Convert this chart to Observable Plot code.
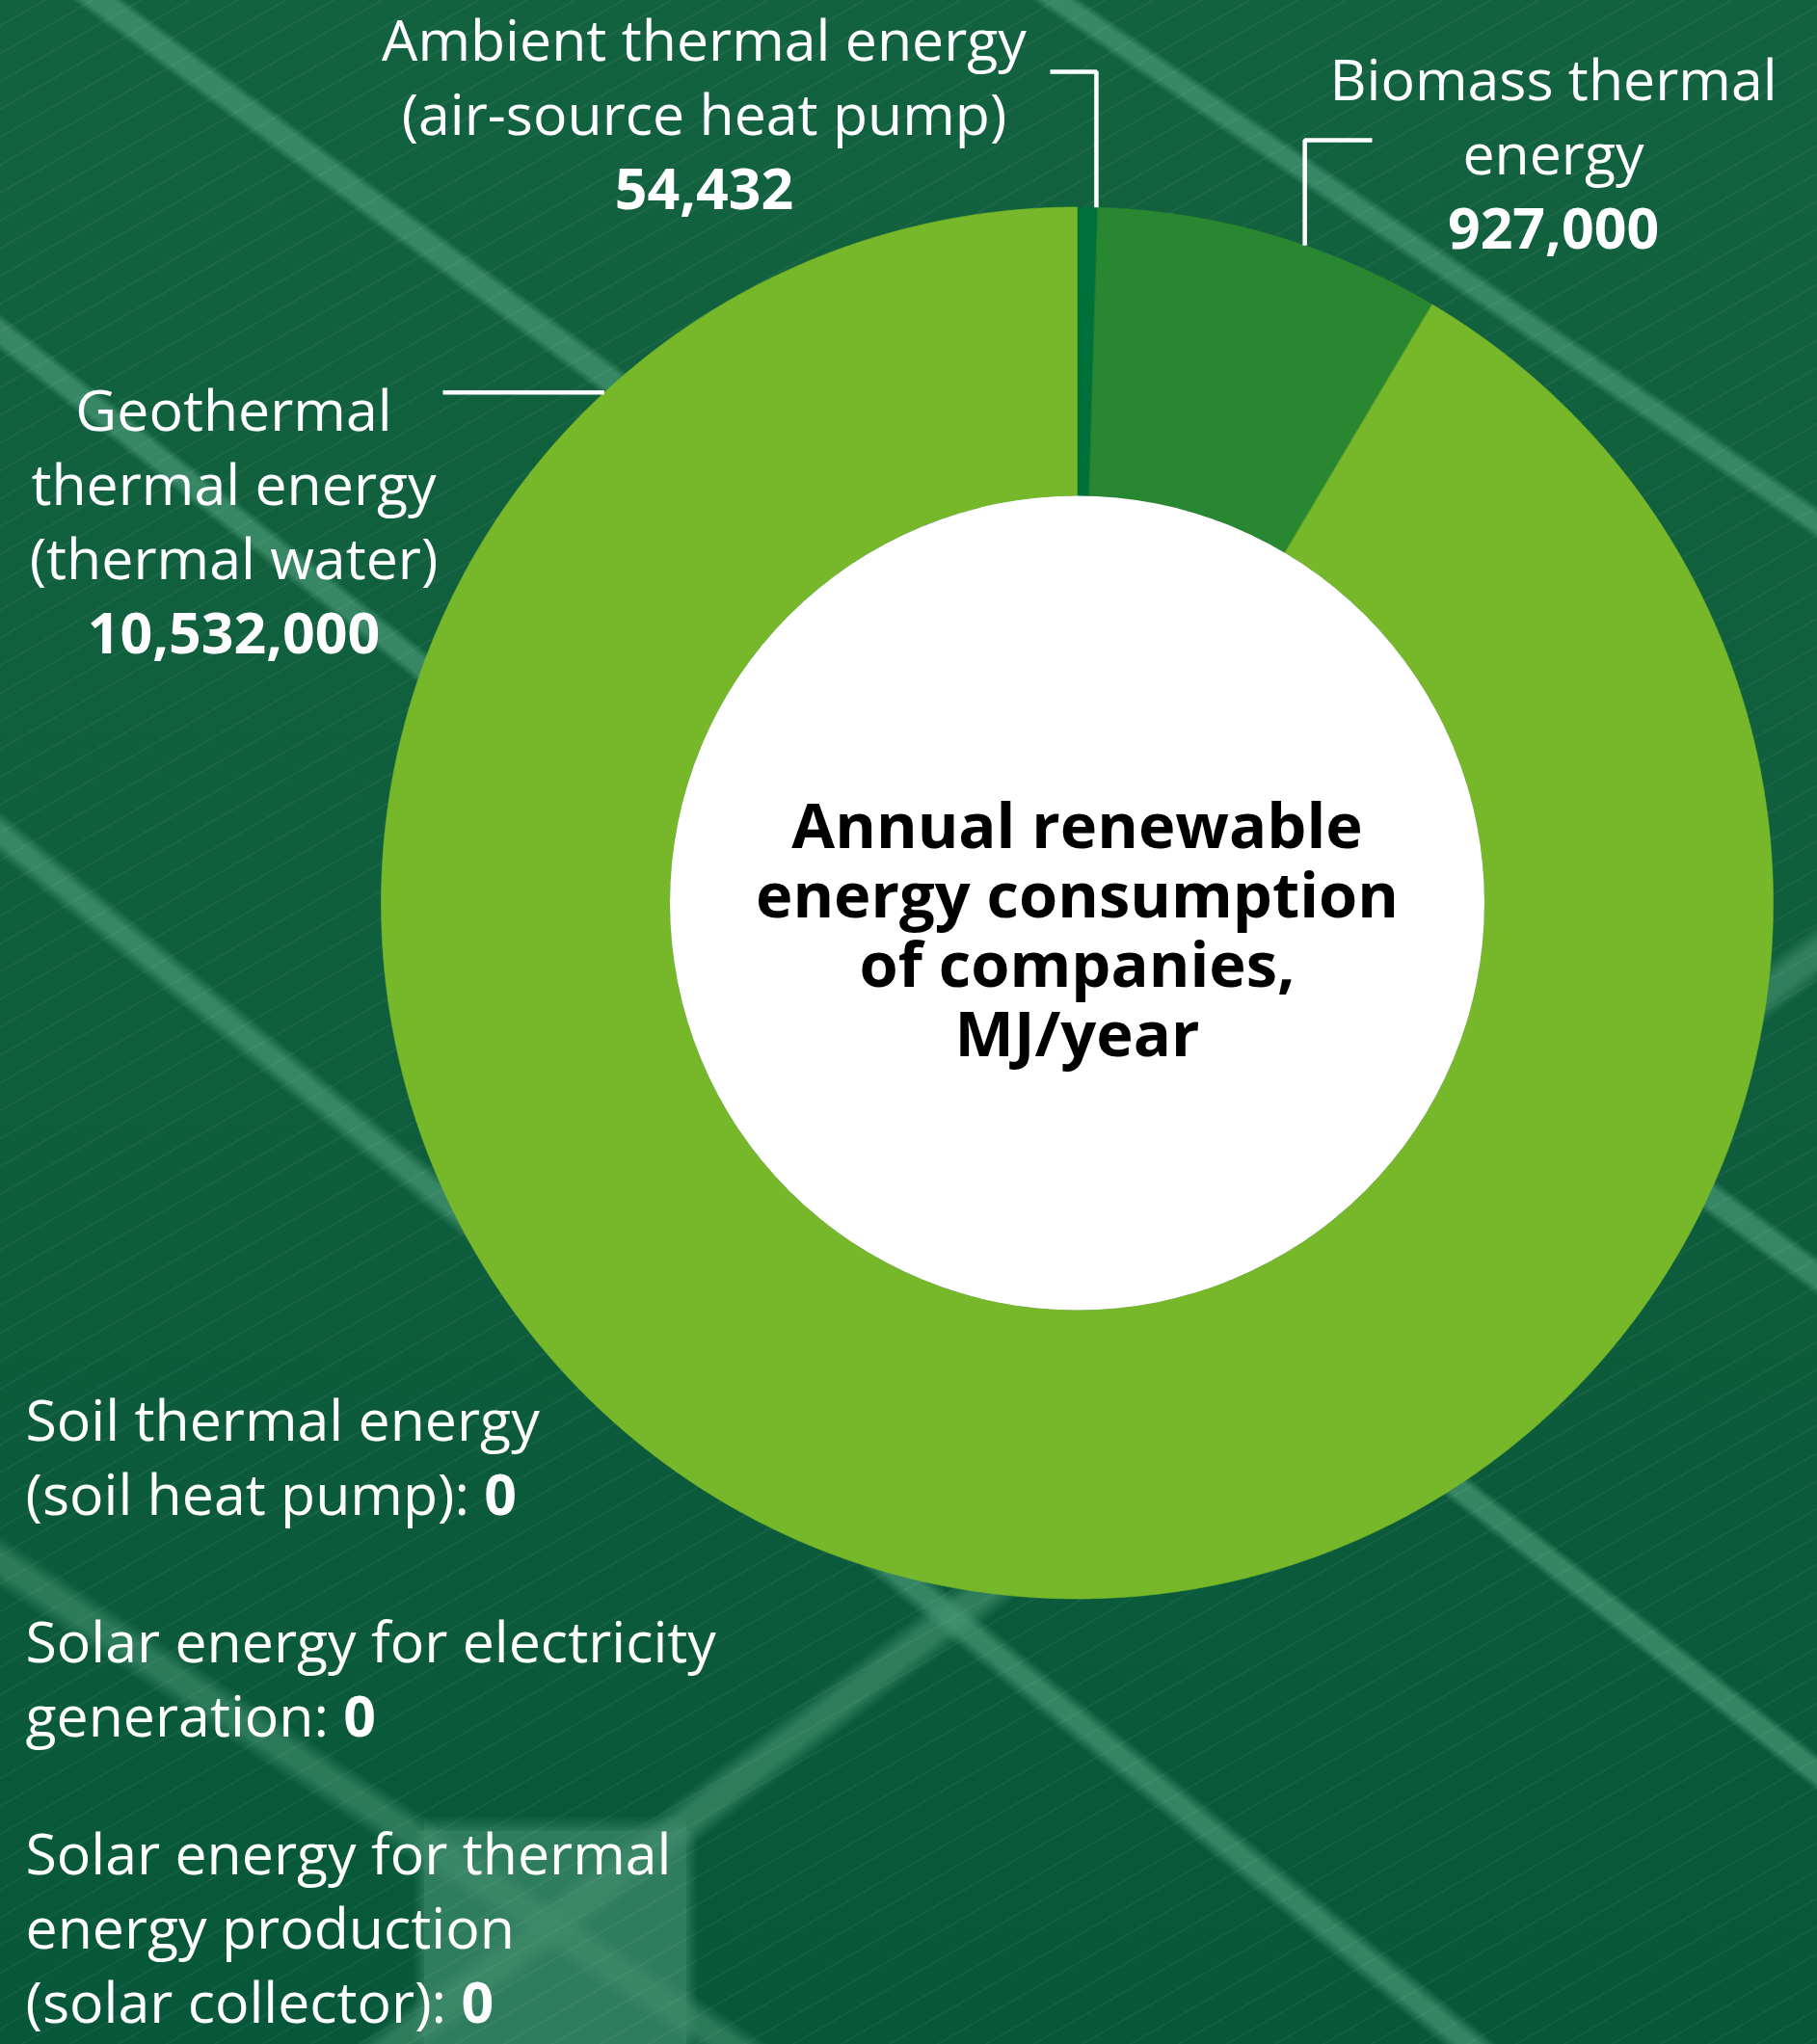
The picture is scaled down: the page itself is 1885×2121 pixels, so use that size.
<!DOCTYPE html>
<html><head><meta charset="utf-8">
<script src="https://cdn.jsdelivr.net/npm/d3@7"></script>
<script src="https://cdn.jsdelivr.net/npm/@observablehq/plot@0.6"></script>
<style>
html,body{margin:0;padding:0;overflow:hidden;background:#0c5a3a;}
#bg{position:relative;width:1885px;height:2121px;}
#bg svg{display:block;}
</style></head><body><div id="bg"></div>
<script>
// ---------- data ----------
const categories = [
  "Ambient thermal energy (air-source heat pump)",
  "Biomass thermal energy",
  "Geothermal thermal energy (thermal water)",
  "Soil thermal energy (soil heat pump)",
  "Solar energy for electricity generation",
  "Solar energy for thermal energy production (solar collector)"
];
const values = [54432, 927000, 10532000, 0, 0, 0];
const labelLines = [
  ["Ambient thermal energy", "(air-source heat pump)"],
  ["Biomass thermal", "energy"],
  ["Geothermal", "thermal energy", "(thermal water)"],
  ["Soil thermal energy", "(soil heat pump):"],
  ["Solar energy for electricity", "generation:"],
  ["Solar energy for thermal", "energy production", "(solar collector):"]
];
const sliceColors = ["#00703a", "#2a8731", "#76b82a", "#4a9a3a", "#8cc63f", "#a6d05a"];
const centerTitle = ["Annual renewable", "energy consumption", "of companies,", "MJ/year"];

// ---------- layout ----------
const W = 1885, H = 2121, cx = 1117, cy = 936.5, R = 722, innerR = 422.5;
const ux = px => (px - cx) / R;
const uy = py => (cy - py) / R;
const fmt = d3.format(",");
const lineH = 77, fontSize = 59;
const labelLayout = [
  {x: 730, y: 62, anchor: "middle", inline: false},
  {x: 1611, y: 103, anchor: "middle", inline: false},
  {x: 242, y: 446, anchor: "middle", inline: false},
  {x: 26, y: 1494, anchor: "start", inline: true},
  {x: 26, y: 1724, anchor: "start", inline: true},
  {x: 26, y: 1944, anchor: "start", inline: true}
];
const leaderLayout = [
  {frac: 0.93, elbowY: 74, endX: 1089},
  {frac: 0.6, elbowY: 145, endX: 1423},
  {frac: 0.87, elbowY: null, endX: 459}
];
const titleLastBaseline = 1095, titleFont = 65, titleLineH = 71.7;

// ---------- background (solar panel photo texture) ----------
function band(px, py, phiDeg, width, color, soft = 4) {
  const phi = phiDeg * Math.PI / 180;
  const nx = -Math.sin(phi), ny = Math.cos(phi);
  const theta = Math.atan2(nx, -ny) * 180 / Math.PI;
  const L = Math.abs(W * nx) + Math.abs(H * ny);
  const s = (px - W / 2) * nx + (py - H / 2) * ny + L / 2;
  const a = s - width / 2, b = s + width / 2;
  return `linear-gradient(${theta}deg, transparent ${a - soft}px, ${color} ${a + soft}px, ${color} ${b - soft}px, transparent ${b + soft}px)`;
}
const bandColor = "rgba(68,148,114,0.75)";
const layers = [
  {bg: `repeating-linear-gradient(150deg, rgba(255,255,255,0) 0px, rgba(255,255,255,0) 22px, rgba(255,255,255,0.06) 23px, rgba(255,255,255,0) 25px)`},
  {bg: band(102, 0, 36.6, 26, bandColor)},
  {bg: band(0, 345, 38.4, 24, bandColor)},
  {bg: band(0, 865, 39.5, 26, bandColor, 6)},
  {bg: band(1096, 0, 34.5, 22, bandColor)},
  {bg: band(0, 1621, 33.5, 32, "rgba(62,140,106,0.65)", 8)},
  {bg: band(709, 1892, -37.5, 34, "rgba(62,140,106,0.7)", 8)},
  {bg: `linear-gradient(180deg, rgba(47,125,95,0) 0px, rgba(47,125,95,0.9) 18px, #2f7d5f 40px)`, pos: "440px 1884px", size: "272px 237px"},
  {bg: `linear-gradient(90deg, rgba(47,125,95,0) 0px, rgba(47,125,95,0.85) 14px, rgba(47,125,95,0.85) 282px, rgba(47,125,95,0) 296px)`, pos: "428px 1900px", size: "296px 221px"},
  {bg: `linear-gradient(180deg, #13623f 0%, #0e5d3c 55%, #07573a 100%)`}
];
const bgEl = document.getElementById("bg");
bgEl.style.backgroundImage = layers.map(l => l.bg).join(",");
bgEl.style.backgroundPosition = layers.map(l => l.pos || "0 0").join(",");
bgEl.style.backgroundSize = layers.map(l => l.size || "100% 100%").join(",");
bgEl.style.backgroundRepeat = "no-repeat";

// ---------- donut geometry from values ----------
const sliceData = categories.map((c, i) => ({category: c, value: values[i], i})).filter(d => d.value > 0);
const arcs = d3.pie().sort(null).value(d => d.value).startAngle(0).endAngle(2 * Math.PI)(sliceData);
const ringPoints = [];
for (const a of arcs) {
  const n = Math.max(6, Math.ceil((a.endAngle - a.startAngle) / 0.003));
  const outer = d3.range(n + 1).map(k => a.startAngle + (a.endAngle - a.startAngle) * k / n);
  for (const t of outer) ringPoints.push({category: a.data.category, x: Math.sin(t), y: Math.cos(t)});
  for (const t of outer.slice().reverse()) ringPoints.push({category: a.data.category, x: innerR / R * Math.sin(t), y: innerR / R * Math.cos(t)});
}

// leader lines
const leaderPoints = [];
arcs.forEach(a => {
  const L = leaderLayout[a.data.i];
  const t = a.startAngle + (a.endAngle - a.startAngle) * L.frac;
  const p = {x: Math.sin(t), y: Math.cos(t)};
  const key = a.data.category;
  leaderPoints.push({key, x: p.x, y: p.y});
  if (L.elbowY != null) {
    leaderPoints.push({key, x: p.x, y: uy(L.elbowY)});
    leaderPoints.push({key, x: ux(L.endX), y: uy(L.elbowY)});
  } else {
    leaderPoints.push({key, x: ux(L.endX), y: p.y});
  }
});

// label text rows
const textRows = [];
categories.forEach((c, i) => {
  const lay = labelLayout[i];
  const lines = labelLines[i].slice();
  let bold = null;
  if (lay.inline) lines[lines.length - 1] = lines[lines.length - 1] + " " + fmt(values[i]);
  else bold = fmt(values[i]);
  lines.forEach((t, j) => textRows.push({text: t, x: ux(lay.x), y: uy(lay.y + j * lineH), anchor: lay.anchor, bold: false}));
  if (bold != null) textRows.push({text: bold, x: ux(lay.x), y: uy(lay.y + lines.length * lineH), anchor: lay.anchor, bold: true});
});

const textOpts = (anchor, weight) => ({
  x: "x", y: "y", text: "text", textAnchor: anchor, lineAnchor: "bottom",
  fill: "white", fontSize, fontWeight: weight
});

const chart = Plot.plot({
  width: W, height: H,
  margin: 0,
  style: {background: "transparent", fontFamily: "'Open Sans', sans-serif", overflow: "visible"},
  x: {domain: [ux(0), ux(W)], range: [0, W], axis: null},
  y: {domain: [uy(H), uy(0)], range: [H, 0], axis: null},
  color: {domain: categories, range: sliceColors},
  marks: [
    Plot.line(ringPoints, {x: "x", y: "y", z: "category", fill: "category", stroke: "category", strokeWidth: 0.6, curve: "linear-closed"}),
    Plot.dot([{x: 0, y: 0}], {x: "x", y: "y", r: innerR, fill: "white", stroke: "none"}),
    Plot.line(leaderPoints, {x: "x", y: "y", z: "key", stroke: "white", strokeWidth: 4.5, strokeLinejoin: "miter", strokeLinecap: "butt"}),
    Plot.text(textRows.filter(d => d.anchor === "middle" && !d.bold), textOpts("middle", "normal")),
    Plot.text(textRows.filter(d => d.anchor === "middle" && d.bold), textOpts("middle", "bold")),
    Plot.text(textRows.filter(d => d.anchor === "start"), textOpts("start", "normal")),
    Plot.text([{text: centerTitle.join("\n"), x: 0, y: uy(titleLastBaseline)}], {
      x: "x", y: "y", text: "text", textAnchor: "middle", lineAnchor: "bottom",
      lineHeight: titleLineH / titleFont, fill: "black", fontSize: titleFont, fontWeight: "bold"
    })
  ]
});

// bold inline values ("...: 0")
chart.querySelectorAll("text").forEach(el => {
  const m = /^(.*:\s)([\d,]+)$/.exec(el.textContent);
  if (m && el.children.length === 0) {
    el.textContent = m[1];
    const ts = document.createElementNS("http://www.w3.org/2000/svg", "tspan");
    ts.setAttribute("font-weight", "bold");
    ts.textContent = m[2];
    el.appendChild(ts);
  }
});

bgEl.appendChild(chart);
</script>
</body></html>
